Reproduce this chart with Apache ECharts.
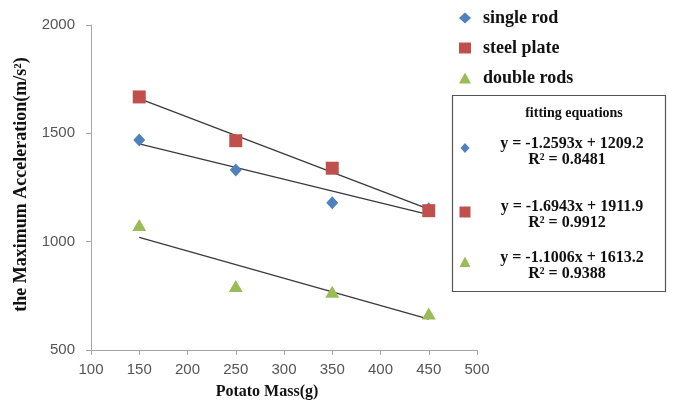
<!DOCTYPE html>
<html><head><meta charset="utf-8">
<script src="https://cdn.jsdelivr.net/npm/echarts@6/dist/echarts.min.js"></script>
<style>html,body{margin:0;padding:0;background:#fff}#c{width:689px;height:405px}</style>
</head><body><div id="c"></div>
<script>
const masses = [150, 250, 350, 450];
const singleRod = [1469, 1331, 1180, 1152];
const steelPlate = [1668, 1466, 1339, 1143];
const doubleRods = [1077, 795, 769, 669];
const fitX = [150, 450];
const fitSingle = [1451, 1125];
const fitSteel = [1660, 1150];
const fitDouble = [1020, 642];
const seriesNames = ['single rod', 'steel plate', 'double rods'];
const equations = ['y = -1.2593x + 1209.2', 'y = -1.6943x + 1911.9', 'y = -1.1006x + 1613.2'];
const rSquared = ['R² = 0.8481', 'R² = 0.9912', 'R² = 0.9388'];
const colors = ['#4F81BD', '#C0504D', '#9BBB59'];

const pairs = (xs, ys) => xs.map((x, i) => [x, ys[i]]);
const serif = '"Liberation Serif", "Times New Roman", serif';
const sans = '"Liberation Sans", Arial, sans-serif';
const chart = echarts.init(document.getElementById('c'));

const eqGraphics = [];
const eqTop = [136, 199, 250];
eqGraphics.push({type:'rect', shape:{x:452.5, y:95.5, width:213, height:196}, style:{fill:'#fff', stroke:'#555', lineWidth:1.2}, z:10});
eqGraphics.push({type:'text', x:574, y:106, style:{text:'fitting equations', font:'bold 14px ' + serif, fill:'#111', textAlign:'center'}, z:11});
for (let i = 0; i < 3; i++) {
  eqGraphics.push({type:'text', x:572, y:eqTop[i], style:{text:equations[i], font:'bold 16px ' + serif, fill:'#111', textAlign:'center'}, z:11});
  eqGraphics.push({type:'text', x:567, y:eqTop[i] + 16, style:{text:rSquared[i], font:'bold 16px ' + serif, fill:'#111', textAlign:'center'}, z:11});
}
eqGraphics.push({type:'polygon', shape:{points:[[465,143],[469.5,148],[465,153],[460.5,148]]}, style:{fill:colors[0]}, z:11});
eqGraphics.push({type:'rect', shape:{x:459.5, y:206.5, width:11, height:11}, style:{fill:colors[1]}, z:11});
eqGraphics.push({type:'polygon', shape:{points:[[465,256.5],[470.5,267],[459.5,267]]}, style:{fill:colors[2]}, z:11});

const fitStyle = {color:'#3a3a3a', width:1.3};
chart.setOption({
  animation:false,
  backgroundColor:'#fff',
  grid:{left:91, right:212, top:25, bottom:55},
  legend:{
    data:seriesNames, orient:'vertical', left:459, top:9, padding:0,
    itemWidth:12, itemHeight:11, itemGap:12,
    textStyle:{fontFamily:serif, fontWeight:'bold', fontSize:18, lineHeight:18, color:'#111', padding:[0,0,0,7]}
  },
  xAxis:{
    type:'value', min:100, max:500, interval:50,
    name:'Potato Mass(g)', nameLocation:'middle', nameGap:34,
    nameTextStyle:{fontFamily:serif, fontWeight:'bold', fontSize:16, color:'#111', padding:[0,34,0,0]},
    axisLine:{lineStyle:{color:'#a6a6a6'}},
    axisTick:{show:true, length:5, lineStyle:{color:'#a6a6a6'}},
    axisLabel:{fontFamily:sans, fontSize:15, color:'#555', margin:12},
    splitLine:{show:false}
  },
  yAxis:{
    type:'value', min:500, max:2000, interval:500,
    name:'the Maximum Acceleration(m/s²)', nameLocation:'middle', nameGap:57,
    nameTextStyle:{fontFamily:serif, fontWeight:'bold', fontSize:18, color:'#111', padding:[0,0,0,6]},
    axisLine:{show:true, lineStyle:{color:'#a6a6a6'}},
    axisTick:{show:true, length:5, lineStyle:{color:'#a6a6a6'}},
    axisLabel:{fontFamily:sans, fontSize:15, color:'#555', margin:16, formatter:v => String(v)},
    splitLine:{show:false}
  },
  graphic:eqGraphics,
  series:[
    {name:'fit single', type:'line', data:pairs(fitX, fitSingle), symbol:'none', lineStyle:fitStyle, z:1},
    {name:'fit steel', type:'line', data:pairs(fitX, fitSteel), symbol:'none', lineStyle:fitStyle, z:1},
    {name:'fit double', type:'line', data:pairs(fitX, fitDouble), symbol:'none', lineStyle:fitStyle, z:1},
    {name:seriesNames[0], type:'scatter', data:pairs(masses, singleRod), symbol:'diamond', symbolSize:[12,13], itemStyle:{color:colors[0], opacity:1}, z:2},
    {name:seriesNames[1], type:'scatter', data:pairs(masses, steelPlate), symbol:'rect', symbolSize:13, itemStyle:{color:colors[1], opacity:1}, z:3},
    {name:seriesNames[2], type:'scatter', data:pairs(masses, doubleRods), symbol:'triangle', symbolSize:[14,12], itemStyle:{color:colors[2], opacity:1}, z:2}
  ]
});
</script></body></html>
